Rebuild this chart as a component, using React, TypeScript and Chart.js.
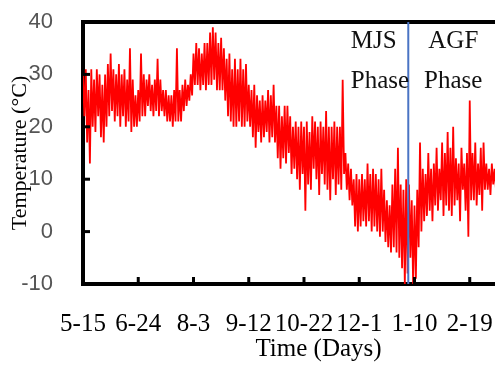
import React, { useEffect, useRef } from 'react';
import { Chart, registerables } from 'chart.js';

Chart.register(...registerables);

// X axis: days since 5-15, one tick every 40 days
const tickLabels = ['5-15', '6-24', '8-3', '9-12', '10-22', '12-1', '1-10', '2-19'];
const tickStepDays = 40;
const xMaxDays = 341;
const yMin = -10;
const yMax = 40;
const yStep = 10;

// boundary between the two phases (days since 5-15)
const phaseBoundaryDay = 235.5;
const leftPhaseText = ['MJS', 'Phase'];
const rightPhaseText = ['AGF', 'Phase'];

// Temperature envelope, one pair every 2 days (day 0, 2, 4, ...)
const dailyHigh = [
  30, 31, 27, 31, 29, 31, 30, 28, 30, 32,
  34, 31, 30, 32, 30, 31, 29, 35, 29, 26,
  27, 34, 30, 29, 30, 28, 29, 33, 29, 27,
  27, 26, 26, 27, 35, 27, 28, 29, 28, 30,
  34, 36, 35, 34, 36, 36, 38, 39, 38, 36,
  37, 35, 33, 34, 31, 33, 31, 33, 31, 32,
  28, 27, 28, 26, 25, 26, 25, 27, 26, 28,
  24, 24, 22, 24, 24, 22, 20, 21, 20, 21,
  20, 21, 19, 22, 21, 20, 21, 20, 23, 20,
  20, 21, 20, 20, 29, 15, 13, 12, 10, 11,
  10, 11, 10, 13, 11, 12, 11, 10, 12, 8,
  6, 5, 9, 12, 16, 9, 8, 10, 9, 6,
  5, 8, 17, 12, 11, 15, 12, 13, 16, 12,
  17, 15, 19, 16, 20, 14, 13, 16, 13, 15,
  25, 15, 17, 13, 16, 17, 13, 12, 13, 12,
];
const dailyLow = [
  22, 17, 13, 20, 19, 22, 18, 17, 20, 22,
  23, 21, 22, 20, 22, 20, 21, 19, 20, 20,
  21, 22, 22, 24, 23, 22, 23, 22, 23, 22,
  21, 21, 20, 21, 21, 21, 23, 24, 25, 26,
  28, 28, 27, 28, 27, 28, 28, 29, 27, 27,
  27, 25, 22, 21, 20, 20, 21, 20, 20, 21,
  20, 18, 16, 19, 17, 18, 19, 17, 18, 17,
  14, 12, 14, 13, 15, 11, 12, 10, 8, 11,
  4, 9, 8, 12, 10, 7, 11, 9, 8, 6,
  10, 7, 9, 8, 11, 8, 6, 5, 1, 0,
  1, 2, 1, 2, 0, 1, 0, -1, 0, -2,
  -3, -4, -3, -4, -5, -7, -10, -8, -5, -10,
  -9, -3, 0, 2, 3, 4, 2, 5, 4, 6,
  3, 5, 4, 3, 5, 6, 2, 8, 4, -1,
  6, 6, 5, 7, 4, 8, 8, 7, 9, 8,
];

const tempPoints = dailyHigh.flatMap((h, i) => [
  { x: 2 * i, y: h },
  { x: 2 * i + 1, y: dailyLow[i] },
]);

const overlayPlugin = {
  id: 'overlay',
  afterDatasetsDraw(chart: any) {
    const { ctx, chartArea, scales } = chart;
    const xs = scales.x;
    const ys = scales.y;
    ctx.save();
    // inside tick marks
    ctx.strokeStyle = '#000';
    ctx.lineWidth = 3;
    xs.ticks.forEach((t: any) => {
      const px = xs.getPixelForValue(t.value);
      ctx.beginPath();
      ctx.moveTo(px, chartArea.bottom);
      ctx.lineTo(px, chartArea.bottom - 7);
      ctx.stroke();
    });
    ys.ticks.forEach((t: any) => {
      const py = ys.getPixelForValue(t.value);
      ctx.beginPath();
      ctx.moveTo(chartArea.left, py);
      ctx.lineTo(chartArea.left + 7, py);
      ctx.stroke();
    });
    // top frame
    ctx.lineWidth = 4;
    ctx.beginPath();
    ctx.moveTo(chartArea.left - 2, chartArea.top);
    ctx.lineTo(chartArea.right, chartArea.top);
    ctx.stroke();
    // phase boundary
    const lx = xs.getPixelForValue(phaseBoundaryDay);
    ctx.strokeStyle = '#4A74C4';
    ctx.lineWidth = 2;
    ctx.beginPath();
    ctx.moveTo(lx, chartArea.top);
    ctx.lineTo(lx, chartArea.bottom);
    ctx.stroke();
    // phase labels
    ctx.fillStyle = '#111';
    ctx.font = '25px "Liberation Serif"';
    ctx.textBaseline = 'alphabetic';
    ctx.textAlign = 'left';
    leftPhaseText.forEach((s, i) => ctx.fillText(s, lx - 57.5, chartArea.top + 26 + i * 40));
    ctx.textAlign = 'center';
    rightPhaseText.forEach((s, i) => ctx.fillText(s, lx + 45, chartArea.top + 26 + i * 40));
    ctx.restore();
  },
};

export default function App() {
  const ref = useRef<HTMLCanvasElement>(null);
  useEffect(() => {
    if (!ref.current) return;
    const chart = new Chart(ref.current, {
      type: 'line',
      data: {
        datasets: [
          {
            data: tempPoints,
            borderColor: '#FF0000',
            borderWidth: 1.8,
            pointRadius: 0,
            tension: 0,
            fill: false,
          },
        ],
      },
      options: {
        animation: false,
        responsive: false,
        devicePixelRatio: 1,
        layout: { padding: { top: 22, right: 6, bottom: 0, left: 0 } },
        plugins: { legend: { display: false }, tooltip: { enabled: false } },
        scales: {
          x: {
            type: 'linear',
            min: 0,
            max: xMaxDays,
            afterFit: (s: any) => {
              s.height = 86;
            },
            afterBuildTicks: (s: any) => {
              s.ticks = tickLabels.map((_, i) => ({ value: i * tickStepDays }));
            },
            ticks: {
              autoSkip: false,
              maxRotation: 0,
              padding: 17,
              color: '#000',
              font: { family: 'Liberation Serif', size: 25 },
              callback: (v: any) => tickLabels[Math.round(Number(v) / tickStepDays)] ?? '',
            },
            grid: { display: false },
            border: { display: true, color: '#000', width: 4 },
            title: {
              display: true,
              text: 'Time (Days)',
              color: '#000',
              font: { family: 'Liberation Serif', size: 25 },
              padding: { top: 0, bottom: 6 },
            },
          },
          y: {
            min: yMin,
            max: yMax,
            afterFit: (s: any) => {
              s.width = 83;
              s.paddingTop = 0;
              s.paddingBottom = 0;
            },
            ticks: {
              stepSize: yStep,
              padding: 22,
              color: '#555',
              font: { family: 'Liberation Sans', size: 22 },
            },
            grid: { display: false },
            border: { display: true, color: '#000', width: 4 },
            title: {
              display: true,
              text: 'Temperature (°C)',
              color: '#000',
              font: { family: 'Liberation Serif', size: 22 },
              padding: { top: 7, bottom: 0 },
            },
          },
        },
      },
      plugins: [overlayPlugin],
    });
    return () => chart.destroy();
  }, []);
  return (
    <div
      style={{
        position: 'fixed',
        left: 0,
        top: 0,
        width: 495,
        height: 370,
        overflow: 'hidden',
        background: '#fff',
      }}
    >
      <canvas ref={ref} width={560} height={370} style={{ display: 'block' }} />
    </div>
  );
}
